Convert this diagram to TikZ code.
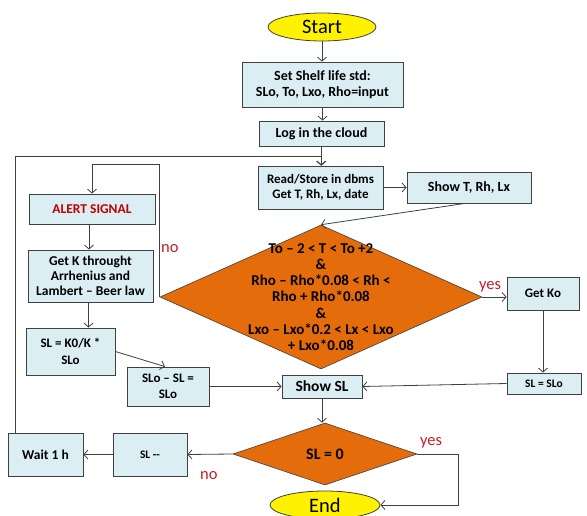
\documentclass[tikz,border=0pt]{standalone}
\usepackage{fontspec}
\setmainfont{Carlito}
\usetikzlibrary{shapes.geometric,arrows.meta,calc}
\definecolor{boxfill}{RGB}{219,238,244}
\definecolor{edge}{RGB}{64,64,64}
\definecolor{orangefill}{RGB}{228,108,10}
\definecolor{redtxt}{RGB}{192,0,0}
\definecolor{labred}{RGB}{200,30,40}
\newcommand\myfs[2]{\fontsize{#1}{#2}\selectfont\bfseries}
\begin{document}
\begin{tikzpicture}[x=1pt,y=-1pt,
  box/.style={draw=edge, fill=boxfill, line width=0.8pt, inner sep=0pt, align=center},
  oval/.style={ellipse, draw=edge, fill=yellow, line width=0.8pt, inner sep=0pt},
  dia/.style={diamond, draw=edge, fill=orangefill, line width=0.6pt, inner sep=0pt},
  arr/.style={draw=edge, line width=0.8pt, -{Straight Barb[length=4pt,width=9pt]}},
  lab/.style={text=labred, font=\fontsize{16.5}{18}\selectfont, inner sep=0pt}]
\fill[white] (0,0) rectangle (587,516);
\path[use as bounding box] (0,0) rectangle (587,516);

\node[oval, minimum width=108pt, minimum height=28pt, font=\fontsize{20.5}{22}\selectfont] (start) at (322,27) {Start};
\node[box, minimum width=161pt, minimum height=45pt, font=\myfs{14}{16}] (set) at (322.5,84.5) {Set Shelf life std:\\SLo, To, Lxo, Rho=input};
\node[box, minimum width=125pt, minimum height=25pt, font=\myfs{14}{16}] (log) at (321.5,133.5) {Log in the cloud};
\node[box, minimum width=125pt, minimum height=43pt, font=\myfs{13}{15}] (read) at (320.5,187.5) {Read/Store in dbms\\Get T, Rh, Lx, date};
\node[box, minimum width=124pt, minimum height=31pt, font=\myfs{14}{16}] (showT) at (469,187.5) {Show T, Rh, Lx};
\node[box, minimum width=126pt, minimum height=30pt, font=\myfs{13.5}{15}, text=redtxt] (alert) at (92,209) {ALERT SIGNAL};
\node[box, minimum width=125pt, minimum height=52pt, font=\myfs{13.5}{15}] (getK) at (90.5,276) {Get K throught\\Arrhenius and\\Lambert – Beer law};
\node[box, minimum width=89pt, minimum height=47pt, font=\myfs{13}{17}] (slk) at (70.5,351.5) {SL = K0/K *\\SLo};
\node[box, minimum width=82pt, minimum height=39pt, font=\myfs{13}{16}] (slosl) at (168,386.5) {SLo – SL =\\SLo};
\node[dia, minimum width=322pt, minimum height=144pt] (d1) at (321,297) {};
\node[font=\myfs{15}{16.2}, align=center, inner sep=0pt] (d1t) at (d1.center) {To – 2 < T < To +2\\\&\\Rho – Rho*0.08 < Rh <\\Rho + Rho*0.08\\\&\\Lxo – Lxo*0.2 < Lx < Lxo\\+ Lxo*0.08};
\node[box, minimum width=72pt, minimum height=33pt, font=\myfs{13}{15}] (getko) at (543,293.5) {Get Ko};
\node[box, minimum width=74pt, minimum height=21pt, font=\myfs{11.5}{13}] (slslo) at (544,383.5) {SL = SLo};
\node[box, minimum width=80pt, minimum height=23pt, font=\myfs{15.5}{17}] (showsl) at (322,386.5) {Show SL};
\node[dia, minimum width=184pt, minimum height=62pt, font=\myfs{16}{18}] (d2) at (325,454) {SL = 0};
\node[box, minimum width=74pt, minimum height=43pt, font=\myfs{11.5}{13}] (slm) at (150,454.5) {SL -{}-};
\node[box, minimum width=75pt, minimum height=43pt, font=\myfs{13.5}{15}] (wait) at (45.5,454.5) {Wait 1 h};
\node[oval, minimum width=110pt, minimum height=28pt, font=\fontsize{20.5}{22}\selectfont] (end) at (325,505) {End};

\coordinate (j1) at ($(log.south)!.5!(read.north)$);
\coordinate (j2) at (0,164);
\coordinate (j3) at (458,505);

\draw[arr] (start.south) -- (start.south |- set.north);
\draw[arr] (set.south) -- (set.south |- log.north);
\draw[arr] (log.south) -- (log.south |- read.north);
\draw[arr] ([xshift=8pt]wait.north west) |- (j1) -- (j1 |- read.north);
\draw[arr] (read.east |- showT.west) -- (showT.west);
\draw[arr] ([xshift=-4pt]showT.south) -- (d1.north);
\draw[arr] (d1.east) -- (d1.east -| getko.west);
\draw[arr] (getko.south) -- (getko.south |- slslo.north);
\draw[arr] (slslo.west) -- (showsl.east);
\draw[arr] (d1.west) -- (d1.west |- j2) -| (alert.north);
\draw[arr] ([xshift=-3pt]alert.south) -- ([xshift=-3pt]alert.south |- getK.north);
\draw[arr] ([xshift=-2pt]getK.south) -- ([xshift=-2pt]getK.south |- slk.north);
\draw[arr] (slk.east) -- ([xshift=-3pt]slosl.north);
\draw[arr] (slosl.east) -- (showsl.west);
\draw[arr] (showsl.south) -- (showsl.south |- d2.north);
\draw[arr] (d2.west) -- (slm.east);
\draw[arr] (slm.west) -- (wait.east);
\draw[arr] (d2.east) -| (j3) -- (end.east);

\node[lab, anchor=base west] (no1) at (161,253) {no};
\node[lab, anchor=base west] (yes1) at (479,289) {yes};
\node[lab, anchor=base west] (yes2) at (420,445) {yes};
\node[lab, anchor=base west] (no2) at (200,479) {no};
\end{tikzpicture}
\end{document}
